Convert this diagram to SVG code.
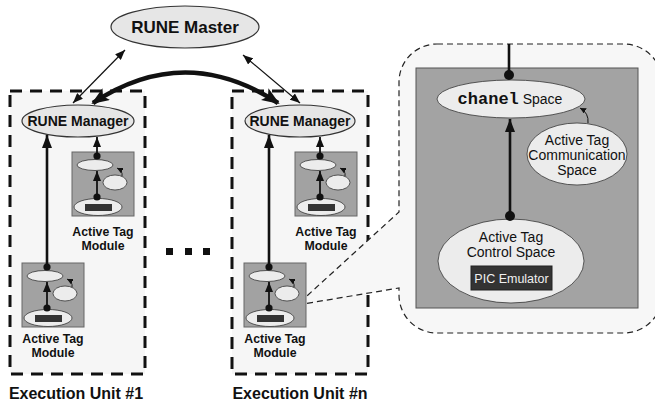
<svg xmlns="http://www.w3.org/2000/svg" xmlns:xlink="http://www.w3.org/1999/xlink" width="655" height="405" viewBox="0 0 655 405">
<style>
  .unit{fill:#f6f6f6;stroke:#111;stroke-width:3;stroke-dasharray:12 8}
  .big{fill:#e6e6e6;stroke:#333;stroke-width:1.2}
  .mod{fill:#a2a2a2;stroke:#666;stroke-width:1}
  .lt{fill:#ececec;stroke:#333;stroke-width:0.8}
  .bl{font-family:"Liberation Sans",Arial,sans-serif;font-weight:bold;fill:#111;text-anchor:middle}
  .rg{font-family:"Liberation Sans",Arial,sans-serif;fill:#111;text-anchor:middle}
  .thin{stroke:#111;stroke-width:1.2;fill:none}
  .long{stroke:#111;stroke-width:2.6;fill:none}
  .inner{stroke:#111;stroke-width:1.8;fill:none}
  .dot{fill:#111}
</style>
<defs>
  <marker id="aThin" markerUnits="userSpaceOnUse" viewBox="0 0 10 8" refX="10" refY="4" markerWidth="10" markerHeight="8" orient="auto-start-reverse"><path d="M0,0 L10,4 L0,8 Z" fill="#111"/></marker>
  <marker id="aBig" markerUnits="userSpaceOnUse" viewBox="0 0 18 14" refX="16" refY="7" markerWidth="18" markerHeight="14" orient="auto-start-reverse"><path d="M0,0 L18,7 L0,14 L4,7 Z" fill="#111"/></marker>
  <marker id="aMed" markerUnits="userSpaceOnUse" viewBox="0 0 13 10" refX="13" refY="5" markerWidth="13" markerHeight="10" orient="auto"><path d="M0,0 L13,5 L0,10 Z" fill="#111"/></marker>
  <marker id="aSm" markerUnits="userSpaceOnUse" viewBox="0 0 10 8" refX="10" refY="4" markerWidth="10" markerHeight="8" orient="auto"><path d="M0,0 L10,4 L0,8 Z" fill="#111"/></marker>
  <marker id="aTiny" markerUnits="userSpaceOnUse" viewBox="0 0 6 6" refX="6" refY="3" markerWidth="6" markerHeight="6" orient="auto"><path d="M0,0 L6,3 L0,6 Z" fill="#111"/></marker>
  <g id="modInner">
    <rect width="62" height="64" class="mod"/>
    <ellipse cx="23" cy="13" rx="18" ry="5.5" class="lt"/>
    <ellipse cx="43" cy="30.5" rx="12" ry="7.5" class="lt"/>
    <ellipse cx="26" cy="55" rx="24" ry="8.5" class="lt"/>
    <rect x="13" y="52" width="27" height="7" fill="#333"/>
    <line x1="25" y1="44" x2="25" y2="19" class="inner" marker-end="url(#aSm)"/>
    <circle cx="25" cy="45" r="3.6" class="dot"/>
    <circle cx="25" cy="4" r="3.6" class="dot"/>
    <path d="M50,24 Q51,19 45,16" fill="none" stroke="#111" stroke-width="0.9" marker-end="url(#aTiny)"/>
  </g>
</defs>

<rect width="655" height="405" fill="#fff"/>

<g id="unit1">
  <rect x="10" y="91" width="135" height="283" class="unit"/>
  <text x="76" y="399" class="bl" font-size="16">Execution Unit #1</text>
</g>
<g id="unitn">
  <rect x="232" y="91" width="136" height="283" class="unit"/>
  <text x="300" y="399" class="bl" font-size="16">Execution Unit #n</text>
</g>

<g id="callout">
  <path d="M437,44 H624 A38,38 0 0 1 662,82 V295 A38,38 0 0 1 624,333 H437 A38,38 0 0 1 399,295 V288 L297,305 L399,212 V82 A38,38 0 0 1 437,44 Z" fill="#f7f7f7" stroke="#222" stroke-width="1.2" stroke-dasharray="6 4"/>
  <rect x="416" y="68" width="222" height="240" fill="#a3a3a3" stroke="#555" stroke-width="1"/>
</g>

<g id="master">
  <ellipse cx="185" cy="27" rx="74" ry="21" class="big"/>
  <text x="185" y="33" class="bl" font-size="17">RUNE Master</text>
</g>
<g id="manager1">
  <ellipse cx="78" cy="121" rx="56" ry="16" class="big"/>
  <text x="78" y="126" class="bl" font-size="14">RUNE Manager</text>
</g>
<g id="managern">
  <ellipse cx="300" cy="121" rx="55" ry="16" class="big"/>
  <text x="300" y="126" class="bl" font-size="14">RUNE Manager</text>
</g>

<g id="mod1a" transform="translate(72,152)">
  <use xlink:href="#modInner"/>
  <text x="31" y="84" class="bl" font-size="12.3">Active Tag</text>
  <text x="31" y="98" class="bl" font-size="12.3">Module</text>
</g>
<g id="mod1b" transform="translate(22,263)">
  <use xlink:href="#modInner"/>
  <text x="31" y="80" class="bl" font-size="12.3">Active Tag</text>
  <text x="31" y="94" class="bl" font-size="12.3">Module</text>
</g>
<g id="modna" transform="translate(295,152)">
  <use xlink:href="#modInner"/>
  <text x="31" y="84" class="bl" font-size="12.3">Active Tag</text>
  <text x="31" y="98" class="bl" font-size="12.3">Module</text>
</g>
<g id="modnb" transform="translate(244,263)">
  <use xlink:href="#modInner"/>
  <text x="31" y="80" class="bl" font-size="12.3">Active Tag</text>
  <text x="31" y="94" class="bl" font-size="12.3">Module</text>
</g>

<g id="ellipsis" fill="#111">
  <rect x="166" y="248" width="7" height="7"/>
  <rect x="185" y="248" width="7" height="7"/>
  <rect x="203" y="248" width="7" height="7"/>
</g>

<g id="chanel">
  <ellipse cx="511" cy="99" rx="74" ry="19" class="lt" stroke-width="1"/>
  <text x="510" y="104" font-size="14" text-anchor="middle" fill="#111"><tspan font-family="'Liberation Mono','Courier New',monospace" font-weight="bold" font-size="17">chanel</tspan><tspan font-family="'Liberation Sans',Arial,sans-serif"> Space</tspan></text>
</g>
<g id="comm">
  <ellipse cx="577" cy="154" rx="50" ry="31" class="lt" stroke-width="1"/>
  <text x="577" y="145" class="rg" font-size="14">Active Tag</text>
  <text x="577" y="160" class="rg" font-size="14">Communication</text>
  <text x="577" y="175" class="rg" font-size="14">Space</text>
</g>
<g id="control">
  <ellipse cx="511" cy="261" rx="73" ry="42" class="lt" stroke-width="1"/>
  <text x="511" y="242" class="rg" font-size="14">Active Tag</text>
  <text x="511" y="257" class="rg" font-size="14">Control Space</text>
  <rect x="471" y="266" width="81" height="24" fill="#333" stroke="#222"/>
  <text x="511.5" y="283" class="rg" font-size="12.5" style="fill:#f0f0f0">PIC Emulator</text>
</g>

<g id="connectors">
  <line x1="125" y1="50" x2="73" y2="103" class="thin" marker-start="url(#aThin)" marker-end="url(#aThin)"/>
  <line x1="243" y1="55" x2="300" y2="103" class="thin" marker-start="url(#aThin)" marker-end="url(#aThin)"/>
  <path d="M93,103 Q185,42 278,103" fill="none" stroke="#111" stroke-width="4.5" marker-start="url(#aBig)" marker-end="url(#aBig)"/>
  <line x1="47" y1="267" x2="47" y2="135" class="long" marker-end="url(#aMed)"/>
  <line x1="269" y1="267" x2="269" y2="135" class="long" marker-end="url(#aMed)"/>
  <line x1="97" y1="156" x2="97" y2="137" class="inner" marker-end="url(#aSm)"/>
  <line x1="320" y1="156" x2="320" y2="137" class="inner" marker-end="url(#aSm)"/>
  <line x1="509" y1="44" x2="509" y2="74" class="long"/>
  <circle cx="509" cy="75" r="5" class="dot"/>
  <line x1="510" y1="216" x2="510" y2="119" class="long" marker-end="url(#aMed)"/>
  <circle cx="510" cy="216" r="5" class="dot"/>
  <path d="M588,123 Q589,113 580,108" fill="none" stroke="#111" stroke-width="1" marker-end="url(#aTiny)"/>
</g>
</svg>
